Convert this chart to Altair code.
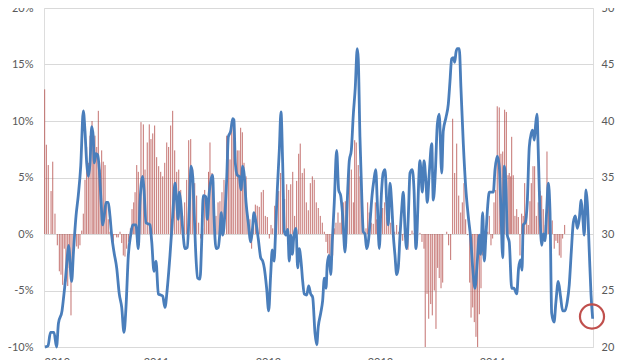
import altair as alt
import pandas as pd

BASE_YEAR = 2010
year_ticks = [2010, 2011, 2012, 2013, 2014]
left_ticks = [-10, -5, 0, 5, 10, 15, 20]
right_ticks = [20, 25, 30, 35, 40, 45, 50]

# blue line (right axis): time offset in years from BASE_YEAR, value
line_t = [0.009, 0.036, 0.058, 0.089, 0.112, 0.129, 0.161, 0.174, 0.188, 0.205,
          0.219, 0.247, 0.263, 0.286, 0.306, 0.328, 0.351, 0.366, 0.381, 0.396,
          0.411, 0.426, 0.440, 0.449, 0.464, 0.479, 0.494, 0.509, 0.524, 0.538,
          0.554, 0.574, 0.589, 0.604, 0.625, 0.649, 0.672, 0.694, 0.714, 0.732,
          0.753, 0.774, 0.792,
          0.821, 0.842, 0.857, 0.881, 0.893, 0.911, 0.931, 0.946, 0.962, 0.982,
          1.000, 1.021, 1.042, 1.060, 1.080, 1.101, 1.125, 1.149, 1.170, 1.185,
          1.199, 1.208, 1.221, 1.238, 1.259, 1.279, 1.297, 1.313, 1.328, 1.342,
          1.357, 1.372, 1.393, 1.408, 1.422, 1.446, 1.458, 1.473, 1.491, 1.506,
          1.518, 1.536, 1.556,
          1.571, 1.583, 1.596, 1.616, 1.631, 1.646, 1.667, 1.685, 1.696, 1.708,
          1.726, 1.744, 1.759, 1.774, 1.788, 1.804, 1.824, 1.846, 1.860, 1.875,
          1.893, 1.913, 1.935, 1.953, 1.967, 1.988, 2.006, 2.024, 2.038, 2.054,
          2.069, 2.083, 2.101, 2.116, 2.131, 2.146, 2.161, 2.176, 2.190, 2.203,
          2.217, 2.232, 2.250, 2.265, 2.279, 2.295, 2.310, 2.324, 2.346, 2.363,
          2.381, 2.399, 2.420, 2.435, 2.449, 2.471, 2.488, 2.503, 2.518, 2.529,
          2.545, 2.560, 2.574, 2.592, 2.613, 2.631, 2.649, 2.667, 2.688, 2.708,
          2.726, 2.744, 2.762, 2.779, 2.797, 2.806, 2.821, 2.839, 2.851, 2.866,
          2.881, 2.896, 2.911, 2.929, 2.946, 2.962, 2.976, 2.994, 3.012, 3.029,
          3.045, 3.060, 3.074, 3.089, 3.104, 3.119, 3.134, 3.149, 3.163, 3.179,
          3.194, 3.208, 3.223, 3.238, 3.253, 3.268, 3.288, 3.304, 3.321,
          3.357, 3.378, 3.393, 3.411, 3.422, 3.440, 3.462, 3.476, 3.494, 3.512,
          3.529, 3.551, 3.565, 3.589, 3.610, 3.625, 3.640, 3.654, 3.667, 3.679,
          3.690, 3.708, 3.723, 3.744, 3.765, 3.788, 3.810, 3.828, 3.848, 3.869,
          3.887, 3.899, 3.917, 3.931, 3.946, 3.962, 3.976, 3.997, 4.012, 4.027,
          4.047, 4.065, 4.078, 4.096, 4.110, 4.125, 4.137, 4.154, 4.176, 4.196,
          4.221, 4.238, 4.256, 4.268, 4.279, 4.297, 4.315, 4.333, 4.351, 4.363,
          4.378, 4.390, 4.402, 4.413, 4.429, 4.444, 4.458, 4.473, 4.488, 4.503,
          4.518, 4.533, 4.554, 4.571, 4.592, 4.613, 4.631, 4.652, 4.672, 4.690,
          4.708, 4.726, 4.744, 4.762, 4.779, 4.797, 4.810, 4.824, 4.839, 4.851,
          4.869, 4.884, 4.899]
line_v = [20.0, 20.1, 21.3, 21.3, 20.0, 22.1, 23.2, 24.3, 25.6, 27.6,
          29.0, 25.8, 28.4, 31.6, 33.4, 36.0, 40.9, 39.1, 36.3, 35.1,
          36.3, 39.5, 38.6, 36.3, 37.1, 37.0, 35.7, 33.0, 30.8, 31.6,
          32.8, 32.8, 31.6, 29.9, 28.4, 27.0, 24.7, 23.5, 21.3, 23.5,
          28.1, 29.9, 30.8,
          30.8, 28.7, 32.8, 35.1, 33.9, 31.0, 30.9, 30.8, 29.3, 26.7,
          27.6, 24.7, 24.6, 24.5, 23.5, 25.2, 28.1, 31.6, 34.5, 32.8,
          31.3, 33.7, 32.8, 30.5, 28.7, 28.8, 32.2, 36.0, 35.1, 31.6,
          27.9, 26.1, 26.0, 29.3, 33.4, 33.3, 31.3, 33.4, 34.8, 35.2,
          31.6, 28.7, 28.8,
          30.2, 31.9, 29.9, 31.9, 34.8, 38.6, 39.1, 40.2, 40.1, 36.3,
          35.2, 35.1, 33.9, 36.0, 35.2, 32.8, 31.0, 29.3, 30.3, 31.9,
          31.0, 29.6, 27.9, 27.6, 27.0, 25.2, 23.2, 26.4, 28.6, 27.6,
          30.5, 33.9, 37.4, 40.8, 36.3, 30.2, 29.9, 30.4, 27.6, 29.9,
          28.2, 29.9, 30.5, 27.0, 28.7, 27.6, 25.8, 24.7, 24.6, 25.4,
          24.7, 24.4, 21.2, 20.2, 21.8, 23.0, 24.1, 26.1, 25.2, 27.3,
          28.1, 26.4, 29.3, 32.8, 37.4, 33.9, 33.4, 31.6, 28.4, 33.0,
          36.5, 37.4, 40.6, 42.9, 46.4, 45.5, 38.6, 32.8, 30.2, 30.0,
          28.7, 29.3, 31.0, 33.4, 34.8, 35.7, 32.8, 28.7, 33.4, 35.4,
          35.7, 32.8, 30.8, 34.5, 32.8, 29.9, 28.1, 26.4, 27.0, 29.9,
          32.2, 33.7, 30.5, 28.7, 31.6, 35.4, 35.7, 33.9, 28.7,
          36.5, 33.7, 36.5, 34.5, 32.8, 35.4, 38.0, 33.0, 35.4, 39.7,
          40.6, 35.4, 39.1, 40.3, 41.5, 43.5, 45.5, 45.6, 45.2, 46.1,
          46.4, 46.4, 42.9, 38.0, 34.2, 31.6, 29.6, 27.0, 25.2, 27.6,
          29.9, 28.2, 31.9, 27.6, 29.9, 32.5, 33.7, 33.7, 33.7, 35.7,
          36.9, 36.0, 32.8, 27.9, 36.0, 34.0, 29.9, 29.3, 25.2, 25.2,
          24.7, 27.0, 27.7, 26.8, 30.8, 31.0, 32.8, 37.7, 38.9, 39.2,
          38.3, 39.7, 40.6, 37.4, 31.6, 29.0, 30.0, 29.4, 32.0, 34.5,
          32.0, 23.0, 22.2, 24.0, 25.8, 24.4, 23.2, 23.2, 24.0, 25.5,
          28.4, 31.0, 31.6, 30.5, 31.3, 33.0, 31.6, 29.9, 33.9, 32.8,
          28.4, 24.7, 22.5]

# red bars (left axis, %): time offset in years, value
bar_t = [0.006, 0.021, 0.038, 0.063, 0.078, 0.098, 0.119, 0.137, 0.152, 0.167,
         0.181, 0.196, 0.212, 0.226, 0.241, 0.259, 0.274, 0.292, 0.306, 0.321,
         0.337, 0.351, 0.366, 0.381, 0.396, 0.411, 0.429, 0.440, 0.455, 0.471,
         0.485, 0.500, 0.515, 0.529, 0.545, 0.560, 0.574, 0.589, 0.604, 0.619,
         0.634, 0.649, 0.663, 0.679, 0.694, 0.708, 0.723, 0.738, 0.756, 0.771,
         0.786, 0.801,
         0.813, 0.828, 0.842, 0.866, 0.887, 0.902, 0.922, 0.940, 0.955, 0.971,
         0.988, 1.006, 1.024, 1.042, 1.060, 1.078, 1.096, 1.113, 1.131, 1.149,
         1.167, 1.185, 1.203, 1.221, 1.238, 1.256, 1.274, 1.292, 1.310, 1.328,
         1.346, 1.363, 1.381, 1.399, 1.417, 1.435, 1.453, 1.469, 1.482, 1.500,
         1.518, 1.536, 1.554, 1.571, 1.589, 1.607,
         1.631, 1.646, 1.661, 1.676, 1.690, 1.708, 1.726, 1.741, 1.756, 1.771,
         1.786, 1.804, 1.821, 1.839, 1.854, 1.869, 1.887, 1.904, 1.922, 1.940,
         1.958, 1.976, 1.994, 2.012, 2.027, 2.042, 2.060, 2.078, 2.096, 2.113,
         2.131, 2.149, 2.167, 2.185, 2.203, 2.221, 2.238, 2.256, 2.274, 2.288,
         2.306, 2.324, 2.342, 2.360, 2.378, 2.396, 2.413,
         2.431, 2.449, 2.467, 2.485, 2.503, 2.518, 2.533, 2.547, 2.563, 2.578,
         2.592, 2.607, 2.625, 2.643, 2.658, 2.672, 2.690, 2.708, 2.726, 2.744,
         2.762, 2.774, 2.788, 2.806, 2.821, 2.839, 2.857, 2.875, 2.890, 2.904,
         2.922, 2.940, 2.958, 2.971, 2.988, 3.006, 3.024, 3.042, 3.060, 3.078,
         3.096, 3.113, 3.131, 3.149, 3.167, 3.185, 3.203, 3.217,
         3.232, 3.250, 3.268, 3.286, 3.304, 3.321, 3.339, 3.357, 3.375, 3.393,
         3.404, 3.420, 3.435, 3.453, 3.467, 3.485, 3.500, 3.515, 3.529, 3.545,
         3.560, 3.578, 3.596, 3.613, 3.631, 3.649, 3.667, 3.685, 3.703, 3.721,
         3.735, 3.750, 3.765, 3.783, 3.801, 3.813, 3.828, 3.842, 3.857, 3.872,
         3.887, 3.902, 3.917, 3.931, 3.946, 3.962, 3.976,
         3.991, 4.006, 4.018, 4.033, 4.047, 4.065, 4.080, 4.096, 4.113, 4.128,
         4.143, 4.154, 4.167, 4.176, 4.190, 4.205, 4.221, 4.235, 4.250, 4.265,
         4.279, 4.292, 4.310, 4.324, 4.339, 4.351, 4.366, 4.381, 4.396, 4.413,
         4.429, 4.444, 4.458, 4.476, 4.491, 4.506, 4.521, 4.538, 4.556, 4.571,
         4.587, 4.601, 4.616, 4.631, 4.649]
bar_v = [12.8, 7.9, 6.1, 3.8, 6.4, 1.8, -1.0, -3.3, -3.6, -4.5,
         -1.3, -4.2, -4.6, -3.0, -7.2, -1.9, -0.1, -1.1, -1.3, -1.0,
         0.3, 1.8, 4.8, 7.7, 6.3, 8.7, 10.0, 8.9, 8.7, 7.7,
         10.9, 5.7, 7.4, 6.4, 6.1, 2.8, 1.3, 0.2, -0.1, -0.7,
         -0.1, -0.3, -0.3, 0.2, -0.8, -1.9, -2.0, -1.3, -0.7, 0.5,
         2.2, 2.8,
         3.7, 6.1, 5.5, 9.9, 9.7, 5.7, 8.1, 9.7, 8.4, 8.9,
         9.6, 6.8, 6.0, 5.5, 5.1, 6.3, 8.1, 7.7, 9.6, 10.9,
         7.4, 5.5, 5.7, 3.9, 1.6, 2.8, 4.8, 8.3, 8.4, 5.7,
         4.5, 3.4, 1.0, -0.4, 0.5, 3.9, 3.1, 5.5, 8.1, 5.4,
         2.5, 1.6, 2.8, 2.9, 3.7, 4.8,
         8.7, 8.3, 6.6, 10.0, 10.2, 5.8, 7.4, 7.4, 9.4, 9.0,
         6.3, 5.1, 1.6, 1.3, -1.3, 1.6, 2.6, 2.5, 2.4, 3.7,
         3.9, 1.6, 1.5, -0.4, 0.8, 0.5, 2.5, 3.4, 3.8, 5.4,
         5.4, 3.1, 4.4, 3.9, 4.4, 5.5, 1.6, 4.7, 7.1, 8.0,
         5.4, 5.8, 2.8, 2.1, 4.5, 5.1, 4.8,
         2.8, 2.3, 1.6, 1.0, 0.2, -0.7, -1.7, -2.7, -3.6, -1.9,
         0.5, 1.0, 1.9, 1.0, 1.9, 2.8, 2.9, 2.2, 6.6, 5.7,
         2.8, 8.3, 8.1, 6.1, 5.1, 1.6, 0.2, 0.5, 2.8, 1.9,
         1.0, 0.9, 2.8, 1.3, 1.0, 1.3, 2.3, 2.8, 1.5, 1.3,
         1.0, 1.6, 0.2, 0.8, 0.2, -0.1, -0.6, 0.1,
         -0.7, -1.4, -0.1, 0.3, 0.1, 0.1, 0.0, 0.1, -0.7, -1.3,
         -10.0, -5.3, -7.5, -6.2, -7.2, -5.0, -8.4, -3.0, -3.9, -4.8,
         -4.3, 0.0, 0.2, -1.0, -2.3, 10.2, 5.4, 8.0, 3.4, 1.9,
         2.8, 4.5, 1.3, -0.1, -4.3, -7.4, -6.5, -7.8, -9.1, -10.0,
         -7.1, -4.8, -1.9, -1.0, 0.0, 0.2, 1.6,
         -1.0, -0.4, 2.8, 3.9, 11.3, 11.2, 7.1, 7.3, 11.0, 10.8,
         5.2, 5.4, 5.1, 8.6, 5.2, 1.6, 2.2, 1.5, -1.9, 1.8,
         1.6, 4.5, 3.1, 0.8, 2.9, 4.5, 6.0, 6.0, 1.6, 2.8,
         3.8, 3.4, 2.2, 0.8, 7.3, 3.5, 2.8, 1.2, -1.3, -0.6,
         -0.8, -1.9, -2.1, -0.4, 0.8]

# highlighted last reading (right axis)
mark_t = [4.893]
mark_v = [22.7]

X_END = 4.902

line_df = pd.DataFrame({"t": [BASE_YEAR + t for t in line_t], "v": line_v})
bar_df = pd.DataFrame({"t": [BASE_YEAR + t for t in bar_t], "v": bar_v, "zero": [0.0] * len(bar_v)})
mark_df = pd.DataFrame({"t": [BASE_YEAR + t for t in mark_t], "v": mark_v})

FONT = "Lato"
LABEL_COLOR = "#595959"

x_enc = alt.X(
    "t:Q",
    scale=alt.Scale(domain=[BASE_YEAR, BASE_YEAR + X_END], nice=False, zero=False),
    axis=alt.Axis(values=year_ticks, format="d", grid=False, ticks=False, domain=False,
                  labelPadding=9, labelFont=FONT, labelFontSize=11, labelColor=LABEL_COLOR,
                  title=None),
)

bars = alt.Chart(bar_df).mark_rule(color="#b54f4c", strokeWidth=1, opacity=0.8).encode(
    x=x_enc,
    y=alt.Y("v:Q", scale=alt.Scale(domain=[-10, 20], nice=False, zero=False),
            axis=alt.Axis(values=left_ticks, labelExpr="datum.value + '%'", grid=True,
                          gridColor="#d9d9d9", gridWidth=1, ticks=False, domain=False,
                          labelPadding=11, labelFont=FONT, labelFontSize=11,
                          labelColor=LABEL_COLOR, title=None)),
    y2=alt.Y2("zero:Q"),
)

line = alt.Chart(line_df).mark_line(color="#4a7ebb", strokeWidth=2.8, interpolate="monotone").encode(
    x=x_enc,
    y=alt.Y("v:Q", scale=alt.Scale(domain=[20, 50], nice=False, zero=False),
            axis=alt.Axis(orient="right", values=right_ticks, grid=False, ticks=False,
                          domain=False, labelPadding=8, labelFont=FONT, labelFontSize=11,
                          labelColor=LABEL_COLOR, title=None)),
)

ring = alt.Chart(mark_df).mark_point(shape="circle", size=580, filled=False,
                                      stroke="#c0504d", strokeWidth=2.2, opacity=1).encode(
    x=x_enc,
    y=alt.Y("v:Q", scale=alt.Scale(domain=[20, 50], nice=False, zero=False), axis=None),
)

chart = alt.layer(bars, line, ring).resolve_scale(y="independent").properties(
    width=549,
    height=339,
    autosize=alt.AutoSizeParams(type="none"),
    padding={"left": 36, "top": 0, "right": 39, "bottom": 14},
).configure_view(stroke=None).configure(background="white")

chart.save("out.html", embed_options={"renderer": "svg", "actions": False})
